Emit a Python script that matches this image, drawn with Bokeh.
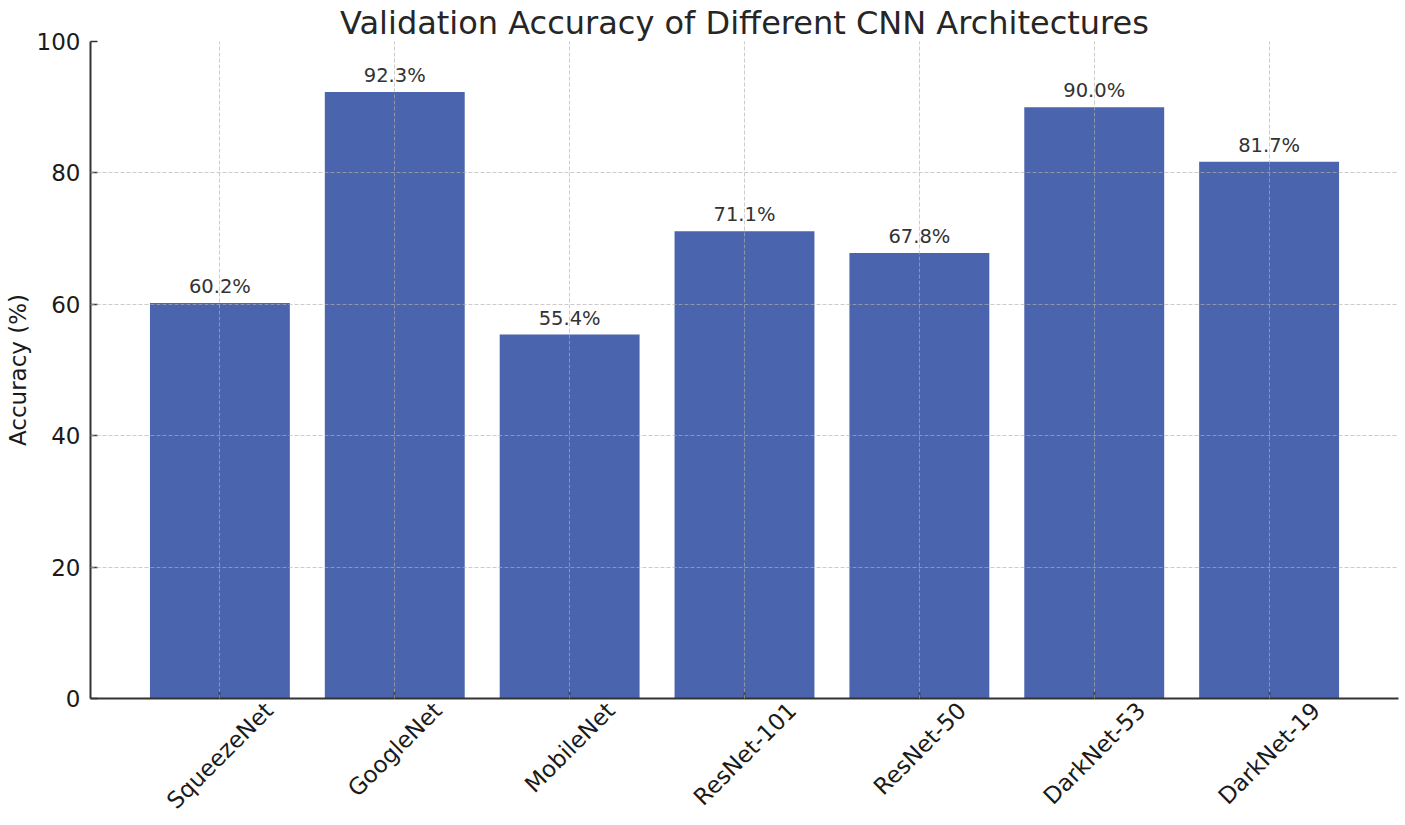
from math import pi
from bokeh.plotting import figure
from bokeh.models import (ColumnDataSource, LabelSet, Range1d, FixedTicker, LinearAxis,
                          CustomJSTickFormatter)
from bokeh.core.properties import value
from bokeh.embed import file_html
from bokeh.resources import INLINE

# ---- data ----
models = ["SqueezeNet", "GoogleNet", "MobileNet", "ResNet-101", "ResNet-50", "DarkNet-53", "DarkNet-19"]
accuracy = [60.2, 92.3, 55.4, 71.1, 67.8, 90.0, 81.7]
y_ticks = [0, 20, 40, 60, 80, 100]
title_text = "Validation Accuracy of Different CNN Architectures"
y_label = "Accuracy (%)"

FONT = "DejaVu Sans"
TICK_PX = 23
BAR_COLOR = "#4a64ad"
WIDTH, HEIGHT = 1405, 825
B_LEFT, B_RIGHT, B_TOP, B_BOTTOM = 90, 7, 41, 127
X_START, X_END = -0.74, 6.74

# approximate DejaVu Sans advance widths (per 1000 em) for label layout
_W = {"S": 635, "q": 635, "u": 634, "e": 615, "z": 525, "N": 748, "t": 392, "G": 775,
      "o": 612, "g": 635, "l": 278, "M": 863, "b": 635, "i": 278, "R": 695, "s": 521,
      "-": 361, "0": 636, "1": 636, "3": 636, "5": 636, "9": 636, "D": 770, "a": 613,
      "r": 411, "k": 579}


def text_width(s, px):
    return sum(_W.get(c, 600) for c in s) / 1000.0 * px


xs = list(range(len(models)))
bar_labels = [f"{v:.1f}%" for v in accuracy]

# 45-degree labels are right-anchored by Bokeh; shift anchor so each label's
# box is centred under its bar (as in the reference)
px_per_unit = (WIDTH - B_LEFT - B_RIGHT) / (X_END - X_START)
label_ticks = [i + 0.354 * text_width(m, TICK_PX) / px_per_unit for i, m in zip(xs, models)]

src = ColumnDataSource(dict(x=xs, acc=accuracy, lab=bar_labels))

p = figure(width=WIDTH, height=HEIGHT, output_backend="svg", toolbar_location=None,
           x_range=Range1d(X_START, X_END), y_range=Range1d(0, 100),
           title=title_text,
           min_border_left=B_LEFT, min_border_right=B_RIGHT,
           min_border_top=B_TOP, min_border_bottom=B_BOTTOM)

p.vbar(x="x", top="acc", width=0.8, bottom=0, source=src,
       fill_color=BAR_COLOR, line_color=None)

# title
p.title.text_font = FONT
p.title.text_font_size = "32px"
p.title.text_font_style = "normal"
p.title.text_color = "#262626"
p.title.align = "center"
p.title.standoff = 0
p.title.offset = 0

p.outline_line_color = None
p.background_fill_color = "white"
p.border_fill_color = "white"

# y axis
p.yaxis.ticker = FixedTicker(ticks=y_ticks)
p.yaxis.axis_label = y_label
p.yaxis.axis_label_text_font = FONT
p.yaxis.axis_label_text_font_size = "23px"
p.yaxis.axis_label_text_font_style = "normal"
p.yaxis.axis_label_text_color = "#1a1a1a"
p.yaxis.axis_label_standoff = 3
p.yaxis.major_label_text_font = FONT
p.yaxis.major_label_text_font_size = f"{TICK_PX}px"
p.yaxis.major_label_text_color = "#1a1a1a"
p.yaxis.major_label_standoff = 10
p.yaxis.major_tick_in = 7
p.yaxis.major_tick_out = 0
p.yaxis.minor_tick_line_color = None
p.yaxis.axis_line_color = "#333333"
p.yaxis.axis_line_width = 2
p.yaxis.major_tick_line_color = "#333333"
p.yaxis.major_tick_line_width = 1.5

# x axis: line + inward ticks at bar centres
p.xaxis.ticker = FixedTicker(ticks=xs)
p.xaxis.major_label_overrides = {i: "" for i in xs}
p.xaxis.major_label_text_font_size = "1px"
p.xaxis.major_label_standoff = 0
p.xaxis.major_tick_in = 7
p.xaxis.major_tick_out = 0
p.xaxis.minor_tick_line_color = None
p.xaxis.axis_line_color = "#333333"
p.xaxis.axis_line_width = 2
p.xaxis.major_tick_line_color = "#333333"
p.xaxis.major_tick_line_width = 1.5

# x category labels, rotated 45 degrees
label_axis = LinearAxis(
    ticker=FixedTicker(ticks=label_ticks),
    formatter=CustomJSTickFormatter(args=dict(names=models), code="return names[index]"),
    major_label_orientation=pi / 4,
    major_label_standoff=8,
    major_label_text_font=FONT,
    major_label_text_font_size=f"{TICK_PX}px",
    major_label_text_color="#1a1a1a",
    axis_line_color=None, major_tick_line_color=None, minor_tick_line_color=None,
    major_tick_in=0, major_tick_out=0,
)
p.add_layout(label_axis, "below")

# grid
p.xgrid.ticker = FixedTicker(ticks=xs)
p.ygrid.ticker = FixedTicker(ticks=y_ticks)
for g in (p.xgrid, p.ygrid):
    g.grid_line_color = "#b0b0b0"
    g.grid_line_alpha = 0.65
    g.grid_line_dash = "4 2"
    g.grid_line_width = 1
    g.level = "overlay"

# value labels above bars
p.add_layout(LabelSet(x="x", y="acc", text="lab", source=src,
                      text_align="center", text_baseline="bottom", y_offset=5,
                      text_font=value(FONT), text_font_size=value("19.5px"),
                      text_color="#333333"))

open("out.html", "w").write(file_html(p, INLINE))
